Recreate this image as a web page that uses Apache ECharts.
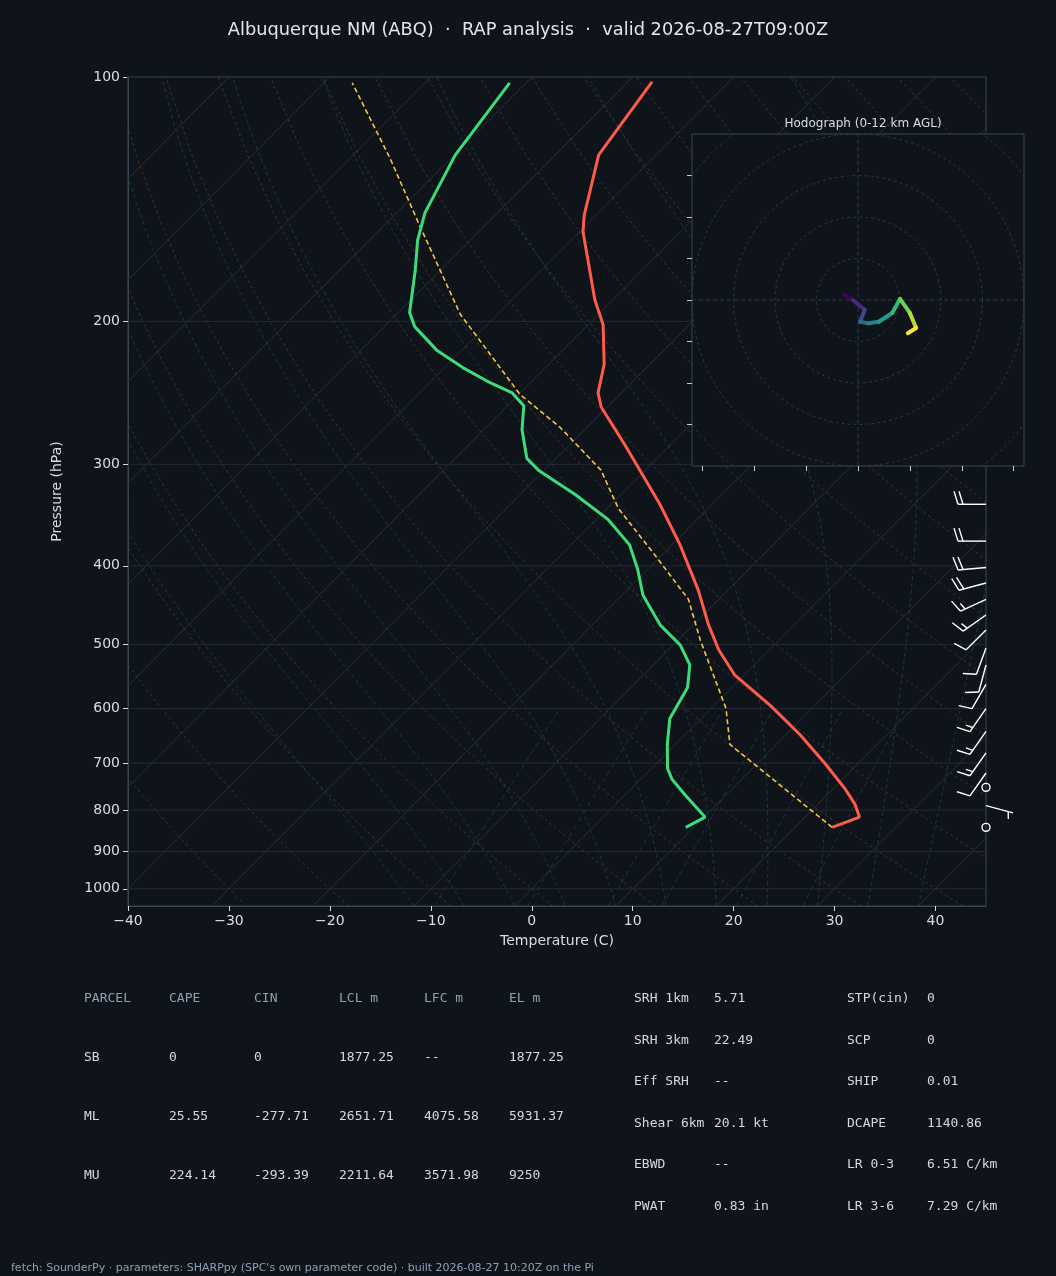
<!DOCTYPE html>
<html><head><meta charset="utf-8">
<script src="https://cdn.jsdelivr.net/npm/echarts@6/dist/echarts.min.js"></script>
<style>html,body{margin:0;background:#0f141a}#c{width:1056px;height:1276px}</style>
</head><body><div id="c"></div>
<script>
// sounding (real temperature, C)
const tempP = [101.4,124.7,147.9,155,188.1,202,226,245,255,284,336,377,429,473,508,545,594,646,702,752,787,816,840];
const tempT = [-67.6,-65.7,-61.2,-59.7,-51.8,-48.5,-44.5,-42.3,-40.6,-34.5,-25.2,-19.2,-12.9,-8.5,-5.0,-1.0,5.5,11.4,16.8,21.1,23.7,25.4,23.7];
const dewP = [101.7,124.7,147,159,173,195,203,217,228,238,245,254,272,295,305,327,351,377,404,435,473,501,530,565,617,664,711,733,767,816,840];
const dewT = [-81.6,-79.9,-77.2,-75.2,-72.5,-68.9,-67.0,-62.5,-58.2,-54.0,-50.8,-48.4,-46.2,-42.9,-40.6,-34.5,-28.8,-24.2,-21.0,-17.9,-13.3,-9.3,-6.4,-4.4,-3.1,-0.8,1.6,3.1,6.0,10.1,9.2];
const parcelP = [840,664,600,494,440,388,340,305,270,246,196,152,126,101.7];
const parcelT = [23.7,5.4,1.5,-7.8,-13.0,-20.7,-28.9,-34.4,-42.7,-49.9,-63.7,-76.6,-86.0,-97.2];
// wind barbs
const barbP = [336,373,402,420,440,460,480,505,530,560,600,640,680,720,750,790,840];
const barbDir = [270,270,265,255,245,235,225,200,195,210,215,215,215,215,0,105,0];
const barbSpd = [20,20,20,20,15,15,10,10,10,10,15,15,15,10,0,5,0];
// hodograph (kt)
const hodoU = [-2.6,-1.0,1.3,0.4,2.0,4.0,6.6,8.1,10.0,11.2,9.6];
const hodoV = [1.0,0.0,-1.9,-4.2,-4.5,-4.2,-2.5,0.2,-2.5,-5.4,-6.4];
const isobars = [100,200,300,400,500,600,700,800,900,1000];

const SKEW = 80;
const sk = (t, p) => [t + SKEW * Math.log10(1000 / p), Math.log10(p)];
const prof = (P, T) => P.map((p, i) => sk(T[i], p));

const bg = [];
const lineS = (data, color, type, w) => ({type:'line', data, symbol:'none', silent:true, lineStyle:{color, width:w||0.8, type:type||'solid'}, z:1});
const levels = []; for (let p = 1050; p >= 100; p -= 25) levels.push(p);
for (let t = -120; t <= 50; t += 10) bg.push(lineS([sk(t,1050), sk(t,100)], '#2b333d', 'solid', 0.9));
for (let th = -30; th <= 200; th += 10) bg.push(lineS(levels.map(p => sk((th+273.15)*Math.pow(p/1000,0.286)-273.15, p)), '#4a3d30', [3,3]));
function esat(t){return 6.112*Math.exp(17.67*t/(t+243.5));}
for (let t0 = -10; t0 <= 40; t0 += 5) {
  let t = t0; const pts = [];
  for (let p = 1050; p >= 100; p -= 10) {
    pts.push(sk(t, p));
    const T = t + 273.15, rs = 0.622*esat(t)/(p-esat(t));
    const g = (287*T + 2.5e6*rs) / (1004 + 2.5e6*2.5e6*rs*0.622/(287*T*T)) / p;
    t -= g * 10;
  }
  bg.push(lineS(pts, '#22404a', [4,3]));
}
[2,4,7,10,16,24].forEach(w => {
  const pts = [];
  for (let p = 1050; p >= 600; p -= 25) { const e = w/1000*p/(0.622+w/1000); const l = Math.log(e/6.112); pts.push(sk(243.5*l/(17.67-l), p)); }
  bg.push(lineS(pts, '#283a55', [5,4]));
});
isobars.forEach(p => bg.push(lineS([[-40,Math.log10(p)],[45,Math.log10(p)]], '#252d36', 'solid', 0.9)));

const hodo = [];
for (let r = 8; r <= 48; r += 8) {
  const pts = []; for (let a = 0; a <= 360; a += 4) pts.push([r*Math.cos(a*Math.PI/180), r*Math.sin(a*Math.PI/180)]);
  hodo.push({type:'line', xAxisIndex:1, yAxisIndex:1, data:pts, symbol:'none', silent:true, lineStyle:{color:'#33404e', width:0.8, type:[3,3]}, z:3});
}
hodo.push({type:'line', xAxisIndex:1, yAxisIndex:1, data:[[0,-32],[0,32]], symbol:'none', silent:true, lineStyle:{color:'#33404e', width:0.8, type:[4,3]}, z:3});
hodo.push({type:'line', xAxisIndex:1, yAxisIndex:1, data:[[-32,0],[32,0]], symbol:'none', silent:true, lineStyle:{color:'#33404e', width:0.8, type:[4,3]}, z:3});
const viridis = ['#440154','#482878','#3e4989','#31688e','#26828e','#1f9e89','#35b779','#6ece58','#b5de2b','#fde725'];
for (let i = 0; i < hodoU.length - 1; i++) {
  hodo.push({type:'line', xAxisIndex:1, yAxisIndex:1, data:[[hodoU[i],hodoV[i]],[hodoU[i+1],hodoV[i+1]]], symbol:'none', silent:true,
    lineStyle:{color:viridis[Math.round(i*9/(hodoU.length-2))], width:4, cap:'round'}, z:4});
}

const barbData = barbP.map((p, i) => [45, Math.log10(p), barbDir[i], barbSpd[i]]);
function renderBarb(params, api) {
  const c = api.coord([api.value(0), api.value(1)]);
  const d = api.value(2) * Math.PI / 180, s = api.value(3);
  const st = {stroke:'#ffffff', lineWidth:1.4, fill:'none'};
  if (s < 2.5) return {type:'circle', shape:{cx:c[0], cy:c[1], r:4}, style:st};
  const sx = Math.sin(d), sy = -Math.cos(d), L = 28;
  const px = -sy, py = sx;
  const kids = [{type:'line', shape:{x1:c[0], y1:c[1], x2:c[0]+sx*L, y2:c[1]+sy*L}, style:st}];
  let rem = s, pos = L;
  while (rem >= 10) { const bx=c[0]+sx*pos, by=c[1]+sy*pos;
    kids.push({type:'line', shape:{x1:bx, y1:by, x2:bx+px*13+sx*4, y2:by+py*13+sy*4}, style:st}); rem -= 10; pos -= 5; }
  if (rem >= 5) { if (pos === L) pos -= 5; const bx=c[0]+sx*pos, by=c[1]+sy*pos;
    kids.push({type:'line', shape:{x1:bx, y1:by, x2:bx+px*7+sx*2, y2:by+py*7+sy*2}, style:st}); }
  return {type:'group', children:kids};
}

const axC = '#3a4654', txt = '#d8dde4';
const mono = "'DejaVu Sans Mono', monospace";
const T1 = (x, y, s, c) => ({type:'text', left:x, top:y-8, style:{text:s, fill:c, font:'13px '+mono}});
const hd = '#8fa0b5', vl = '#d4d9e0';
const tbl = [];
const cols = [84,169,254,339,424,509];
const rowsL = [['PARCEL','CAPE','CIN','LCL m','LFC m','EL m'],['SB','0','0','1877.25','--','1877.25'],['ML','25.55','-277.71','2651.71','4075.58','5931.37'],['MU','224.14','-293.39','2211.64','3571.98','9250']];
const ryL = [1000,1059,1118,1177];
rowsL.forEach((r, i) => r.forEach((s, j) => tbl.push(T1(cols[j], ryL[i], s, i === 0 ? hd : vl))));
const rA = [['SRH 1km','5.71'],['SRH 3km','22.49'],['Eff SRH','--'],['Shear 6km','20.1 kt'],['EBWD','--'],['PWAT','0.83 in']];
const rB = [['STP(cin)','0'],['SCP','0'],['SHIP','0.01'],['DCAPE','1140.86'],['LR 0-3','6.51 C/km'],['LR 3-6','7.29 C/km']];
const ryR = [1000,1042,1083,1125,1166,1208];
rA.forEach((r,i)=>{tbl.push(T1(634,ryR[i],r[0],vl));tbl.push(T1(714,ryR[i],r[1],vl));});
rB.forEach((r,i)=>{tbl.push(T1(847,ryR[i],r[0],vl));tbl.push(T1(927,ryR[i],r[1],vl));});

const xt = [-40,-30,-20,-10,0,10,20,30,40];
const chart = echarts.init(document.getElementById('c'));
chart.setOption({
  backgroundColor:'#0f141a',
  animation:false,
  textStyle:{fontFamily:'DejaVu Sans'},
  title:[{text:'Albuquerque NM (ABQ)  ·  RAP analysis  ·  valid 2026-08-27T09:00Z', left:'center', top:16, textStyle:{color:'#e2e6eb', fontSize:17.8, fontWeight:'normal'}},
         {text:'Hodograph (0-12 km AGL)', left:858, textAlign:'center', top:113, textStyle:{color:'#d8dde4', fontSize:12, fontWeight:'normal'}}],
  grid:[{left:128, top:77, width:858, height:829, show:true, borderColor:axC, borderWidth:1},
        {left:692, top:134, width:332, height:332, show:true, backgroundColor:'#0f141a', borderColor:axC, borderWidth:1, z:2}],
  xAxis:[{type:'value', min:-40, max:45, name:'Temperature (C)', nameLocation:'middle', nameGap:28, nameTextStyle:{color:txt, fontSize:14},
           axisLine:{onZero:false, lineStyle:{color:axC}}, axisTick:{show:true, lineStyle:{color:txt}, customValues:xt}, splitLine:{show:false},
           axisLabel:{color:txt, fontSize:14, customValues:xt, formatter:v=>String(v).replace('-','\u2212')}},
         {type:'value', gridIndex:1, min:-32, max:32, z:3, position:'bottom', axisLine:{show:false, onZero:false}, splitLine:{show:false},
           axisTick:{show:true, lineStyle:{color:'#c8ced6'}, customValues:[-30,-20,-10,0,10,20,30]}, axisLabel:{show:false}}],
  yAxis:[{type:'value', inverse:true, min:2, max:Math.log10(1050), name:'Pressure (hPa)', nameLocation:'middle', nameGap:64, nameTextStyle:{color:txt, fontSize:14},
           axisLine:{show:true, onZero:false, lineStyle:{color:axC}}, splitLine:{show:false},
           axisTick:{show:true, lineStyle:{color:txt}, customValues:isobars.map(Math.log10)},
           axisLabel:{color:txt, fontSize:14, customValues:isobars.map(Math.log10), formatter:v=>String(Math.round(Math.pow(10,v)))}},
         {type:'value', gridIndex:1, min:-32, max:32, z:3, position:'left', axisLine:{show:false, onZero:false}, splitLine:{show:false},
           axisTick:{show:true, lineStyle:{color:'#c8ced6'}, customValues:[-24,-16,-8,0,8,16,24]}, axisLabel:{show:false}}],
  series:[...bg, ...hodo,
    {type:'line', data:prof(parcelP, parcelT), symbol:'none', lineStyle:{color:'#f2c744', width:1.6, type:[5,3]}, z:5},
    {type:'line', data:prof(tempP, tempT), symbol:'none', lineStyle:{color:'#ff5a4a', width:3}, z:6},
    {type:'line', data:prof(dewP, dewT), symbol:'none', lineStyle:{color:'#3ddc7a', width:3}, z:6},
    {type:'custom', data:barbData, renderItem:renderBarb, clip:false, z:7}
  ],
  graphic:[...tbl, {type:'text', left:11, top:1263, style:{text:"fetch: SounderPy · parameters: SHARPpy (SPC's own parameter code) · built 2026-08-27 10:20Z on the Pi", fill:'#8fa0b5', font:'11px DejaVu Sans'}}]
});
</script></body></html>
